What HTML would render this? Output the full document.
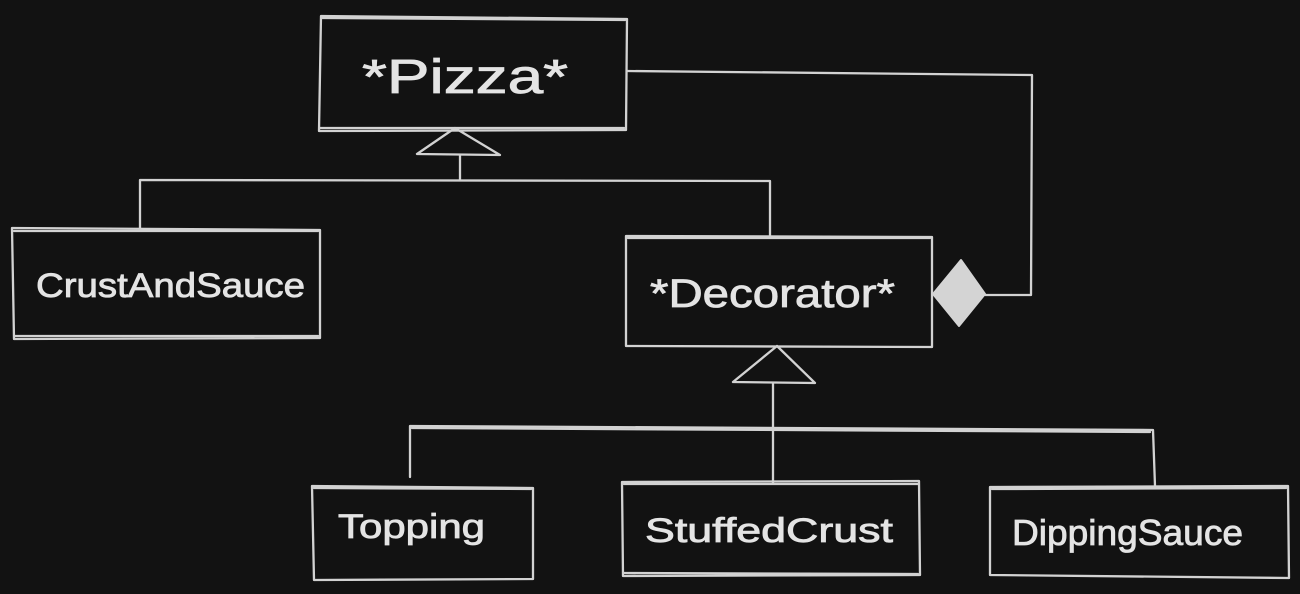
<!DOCTYPE html>
<html><head><meta charset="utf-8"><style>
html,body{margin:0;padding:0;background:#121212;}
svg{display:block;}
text{font-family:"Liberation Sans",sans-serif;fill:#e4e4e4;stroke:#e4e4e4;stroke-width:0.8;}
</style></head><body>
<svg width="1300" height="594" viewBox="0 0 1300 594" xmlns="http://www.w3.org/2000/svg">
<rect width="1300" height="594" fill="#121212"/>
<g fill="none" stroke="#d2d2d2" stroke-width="2.3" stroke-linecap="round" stroke-linejoin="round">
  <!-- Pizza box -->
  <path d="M321 16 L627 19 L626 130 L319 131 Z"/>
  <path d="M322 18 L625 20 M320 128 L624 128"/>
  <!-- CrustAndSauce box -->
  <path d="M12 228 L320 230 L320 338 L14 339 Z"/>
  <path d="M14 231 L318 231 M15 336 L318 336"/>
  <!-- Decorator box -->
  <path d="M626 236 L932 237 L932 347 L626 346 Z"/>
  <path d="M628 238 L930 238"/>
  <!-- Topping -->
  <path d="M312 486 L533 488 L533 579 L314 580 Z"/>
  <path d="M314 488 L531 489"/>
  <!-- StuffedCrust -->
  <path d="M622 482 L919 481 L920 575 L623 576 Z"/>
  <path d="M624 484 L918 484 M624 573 L918 574"/>
  <!-- DippingSauce -->
  <path d="M990 487 L1288 486 L1289 578 L990 575 Z"/>
  <path d="M992 489 L1286 488"/>

  <!-- inheritance to Pizza -->
  <path d="M455 128 L417 154 L500 155 Z"/>
  <path d="M460 155 L460 180"/>
  <path d="M140 228 L140 180 L770 181 L770 236"/>
  <!-- inheritance to Decorator -->
  <path d="M777 346 L733 382 L815 383 Z"/>
  <path d="M773 383 L773 483"/>
  <path d="M410 477 L410 426 L1153 430 L1155 486"/>
  <path d="M412 428 L1150 432"/>
  <!-- aggregation -->
  <path d="M627 71 L1032 75 L1031 295 L985 295"/>
</g>
<path d="M933 294 L961 260 L985 294 L959 326 Z" fill="#d4d4d4" stroke="#d4d4d4" stroke-width="2" stroke-linejoin="round"/>

<text x="362" y="93" font-size="48" textLength="206" lengthAdjust="spacingAndGlyphs">*Pizza*</text>
<text x="36" y="297" font-size="34" textLength="269" lengthAdjust="spacingAndGlyphs">CrustAndSauce</text>
<text x="650" y="307" font-size="40" textLength="245" lengthAdjust="spacingAndGlyphs">*Decorator*</text>
<text x="338" y="538" font-size="34" textLength="147" lengthAdjust="spacingAndGlyphs">Topping</text>
<text x="645" y="542" font-size="34" textLength="248" lengthAdjust="spacingAndGlyphs">StuffedCrust</text>
<text x="1012" y="545" font-size="36" textLength="231" lengthAdjust="spacingAndGlyphs">DippingSauce</text>
</svg>
</body></html>
